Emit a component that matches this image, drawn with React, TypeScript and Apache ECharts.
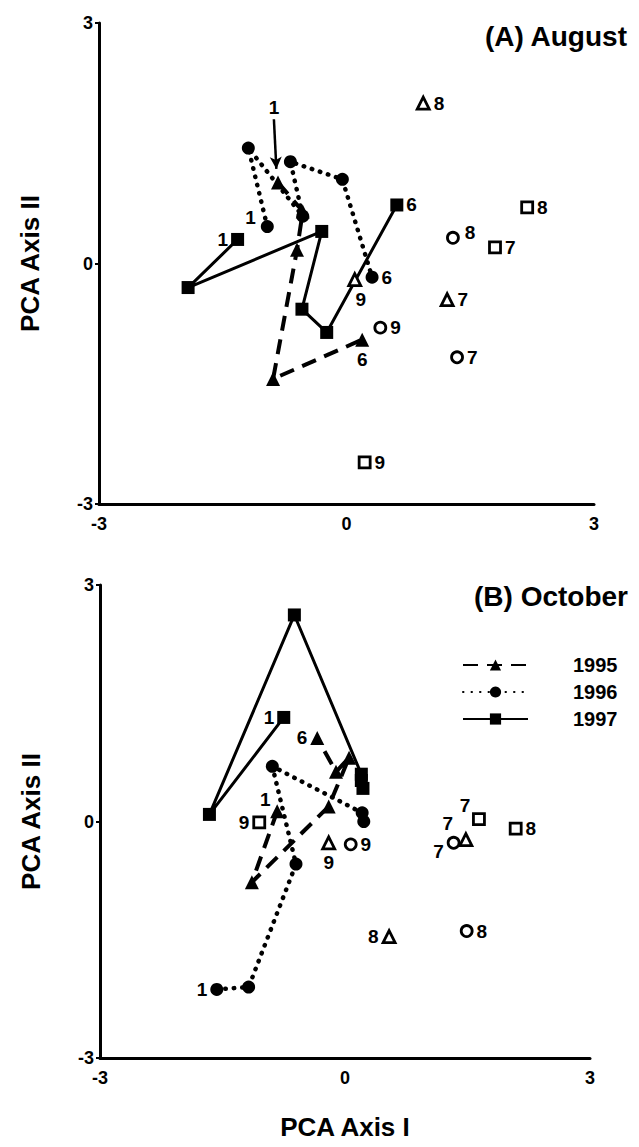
import React, { useEffect, useRef } from "react";
import * as echarts from "echarts";

// ---------- Data (PCA Axis I, PCA Axis II) ----------
// (A) August
const augTri95 = [[-0.83, 1.01], [-0.53, 0.65], [-0.6, 0.17], [-0.89, -1.44], [0.19, -0.95]];
const augTri95Labels = ["1", "", "", "", "6"];
const augCir96 = [[-0.96, 0.46], [-1.19, 1.44], [-0.53, 0.59], [-0.68, 1.27], [-0.05, 1.05], [0.31, -0.17]];
const augCir96Labels = ["1", "", "", "", "", "6"];
const augSq97 = [[-1.32, 0.3], [-1.92, -0.3], [-0.3, 0.4], [-0.54, -0.57], [-0.24, -0.86], [0.61, 0.73]];
const augSq97Labels = ["1", "", "", "", "", "6"];
const augOpen95 = [[1.22, -0.45], [0.93, 2.0], [0.1, -0.2]];
const augOpen96 = [[1.34, -1.17], [1.29, 0.32], [0.41, -0.8]];
const augOpen97 = [[1.8, 0.2], [2.19, 0.7], [0.22, -2.48]];
const openLabels = ["7", "8", "9"];

// (B) October
const octTri95 = [[-0.83, 0.13], [-1.14, -0.77], [-0.2, 0.19], [0.05, 0.81], [-0.11, 0.63], [-0.34, 1.06]];
const octTri95Labels = ["1", "", "", "", "", "6"];
const octCir96 = [[-1.57, -2.13], [-1.18, -2.1], [-0.6, -0.54], [-0.89, 0.7], [0.21, 0.11], [0.23, -0.0]];
const octCir96Labels = ["1", "", "", "", "", ""];
const octSq97 = [[-0.75, 1.32], [-1.66, 0.09], [-0.62, 2.62], [0.2, 0.6], [0.22, 0.42], [0.2, 0.52]];
const octSq97Labels = ["1", "", "", "", "", ""];
const octOpen95 = [[1.48, -0.23], [0.54, -1.46], [-0.2, -0.27]];
const octOpen96 = [[1.33, -0.27], [1.49, -1.39], [0.07, -0.29]];
const octOpen97 = [[1.64, 0.03], [2.09, -0.09], [-1.05, -0.01]];

const years = ["1995", "1996", "1997"];

const FONT = "'Liberation Sans', Arial, sans-serif";

type Pos = { position: string; offset?: number[] };

function mk(points: number[][], labels: string[], pos: (Pos | null)[]) {
  return points.map((p, i) => {
    const lab = labels[i];
    const ps = pos[i];
    if (!lab || !ps) return { value: p };
    return {
      value: p,
      label: {
        show: true,
        formatter: lab,
        position: ps.position,
        offset: ps.offset || [0, 0],
        distance: 3,
        color: "#000",
        fontFamily: FONT,
        fontWeight: "bold",
        fontSize: 19,
      },
    };
  });
}

export default function App() {
  const ref = useRef<HTMLDivElement>(null);

  useEffect(() => {
    if (!ref.current) return;
    const chart = echarts.init(ref.current, undefined, { renderer: "svg" });

    const lineSeries = (
      name: string,
      idx: number,
      data: any[],
      symbol: string,
      lineType: any,
      width: number,
      cap: string,
      extra: any = {}
    ) => ({
      type: "line",
      name,
      xAxisIndex: idx,
      yAxisIndex: idx,
      data,
      symbol,
      symbolSize: symbol === "triangle" ? 14 : 13,
      showAllSymbol: true,
      itemStyle: { color: "#000", borderWidth: 0, opacity: 1 },
      lineStyle: { color: "#000", width, type: lineType, cap },
      z: 3,
      ...extra,
    });

    const openSeries = (idx: number, data: any[], symbol: string) => ({
      type: "scatter",
      name: "open",
      xAxisIndex: idx,
      yAxisIndex: idx,
      data,
      symbol,
      symbolSize: symbol === "triangle" ? 12 : 11,
      itemStyle: { color: "#fff", borderColor: "#000", borderWidth: 2.8, opacity: 1 },
      z: 4,
    });

    const R: Pos = { position: "right" };
    const L: Pos = { position: "left" };
    const B: Pos = { position: "bottom" };

    const dashed = [15, 9];
    const dotted = [0.5, 8];

    const axisCommon = {
      type: "value",
      min: -3,
      max: 3,
      interval: 3,
      splitLine: { show: false },
      axisLine: { show: true, onZero: false, lineStyle: { color: "#000", width: 3 } },
      axisLabel: {
        color: "#000",
        fontFamily: FONT,
        fontWeight: "bold",
        fontSize: 18,
      },
    };

    const nameStyle = { fontFamily: FONT, fontWeight: "bold", fontSize: 26, color: "#000" };

    const option: any = {
      animation: false,
      backgroundColor: "#fff",
      title: [
        {
          text: "(A) August",
          right: 6,
          top: 17,
          textStyle: { fontFamily: FONT, fontWeight: "bold", fontSize: 28, color: "#000" },
        },
        {
          text: "(B) October",
          right: 6,
          top: 577,
          textStyle: { fontFamily: FONT, fontWeight: "bold", fontSize: 28, color: "#000" },
        },
      ],
      legend: {
        data: years,
        orient: "vertical",
        left: 457,
        top: 650,
        itemWidth: 65,
        itemHeight: 14,
        itemGap: 7,
        textStyle: {
          fontFamily: FONT,
          fontWeight: "bold",
          fontSize: 20,
          color: "#000",
          padding: [0, 0, 0, 40],
        },
        selectedMode: false,
      },
      grid: [
        { left: 99, top: 23, width: 495, height: 481 },
        { left: 100, top: 585, width: 490, height: 473 },
      ],
      xAxis: [
        { ...axisCommon, gridIndex: 0, axisTick: { show: false }, axisLabel: { ...axisCommon.axisLabel, margin: 11 } },
        {
          ...axisCommon,
          gridIndex: 1,
          axisTick: { show: false },
          axisLabel: { ...axisCommon.axisLabel, margin: 11 },
          name: "PCA Axis I",
          nameLocation: "middle",
          nameGap: 56,
          nameTextStyle: nameStyle,
        },
      ],
      yAxis: [0, 1].map((g) => ({
        ...axisCommon,
        gridIndex: g,
        axisTick: { show: true, length: 4, lineStyle: { color: "#000", width: 2 } },
        axisLabel: { ...axisCommon.axisLabel, margin: 6 },
        name: "PCA Axis II",
        nameLocation: "middle",
        nameGap: 56,
        nameRotate: 90,
        nameTextStyle: nameStyle,
      })),
      series: [
        // August
        lineSeries(
          "1995",
          0,
          mk(augTri95, augTri95Labels, [{ position: "top", offset: [-4, -56] }, null, null, null, B]),
          "triangle",
          dashed,
          4,
          "butt",
          {
            markLine: {
              silent: true,
              symbol: ["none", "arrow"],
              symbolSize: [9, 12],
              label: { show: false },
              lineStyle: { type: "solid", width: 2.5, color: "#000" },
              data: [[{ coord: [-0.88, 1.8] }, { coord: [-0.85, 1.18] }]],
            },
          }
        ),
        lineSeries(
          "1996",
          0,
          mk(augCir96, augCir96Labels, [{ position: "left", offset: [-2, -9] }, null, null, null, null, R]),
          "circle",
          dotted,
          4.5,
          "round"
        ),
        lineSeries("1997", 0, mk(augSq97, augSq97Labels, [L, null, null, null, null, R]), "rect", "solid", 3, "butt"),
        openSeries(0, mk(augOpen95, openLabels, [R, R, { position: "bottom", offset: [6, 0] }]), "triangle"),
        openSeries(0, mk(augOpen96, openLabels, [R, { position: "right", offset: [2, -5] }, R]), "circle"),
        openSeries(0, mk(augOpen97, openLabels, [R, R, R]), "rect"),
        // October
        lineSeries(
          "1995",
          1,
          mk(octTri95, octTri95Labels, [{ position: "top", offset: [-12, 8] }, null, null, null, null, L]),
          "triangle",
          dashed,
          4,
          "butt"
        ),
        lineSeries("1996", 1, mk(octCir96, octCir96Labels, [L, null, null, null, null, null]), "circle", dotted, 4.5, "round"),
        lineSeries("1997", 1, mk(octSq97, octSq97Labels, [L, null, null, null, null, null]), "rect", "solid", 3, "butt"),
        openSeries(1, mk(octOpen95, openLabels, [{ position: "top", offset: [-18, 4] }, L, B]), "triangle"),
        openSeries(1, mk(octOpen96, openLabels, [{ position: "left", offset: [0, 9] }, R, R]), "circle"),
        openSeries(1, mk(octOpen97, openLabels, [{ position: "top", offset: [-14, 6] }, R, L]), "rect"),
      ],
    };

    chart.setOption(option);
    return () => chart.dispose();
  }, []);

  return (
    <div
      ref={ref}
      style={{ position: "absolute", left: 0, top: 0, width: 639, height: 1147, background: "#fff" }}
    />
  );
}
